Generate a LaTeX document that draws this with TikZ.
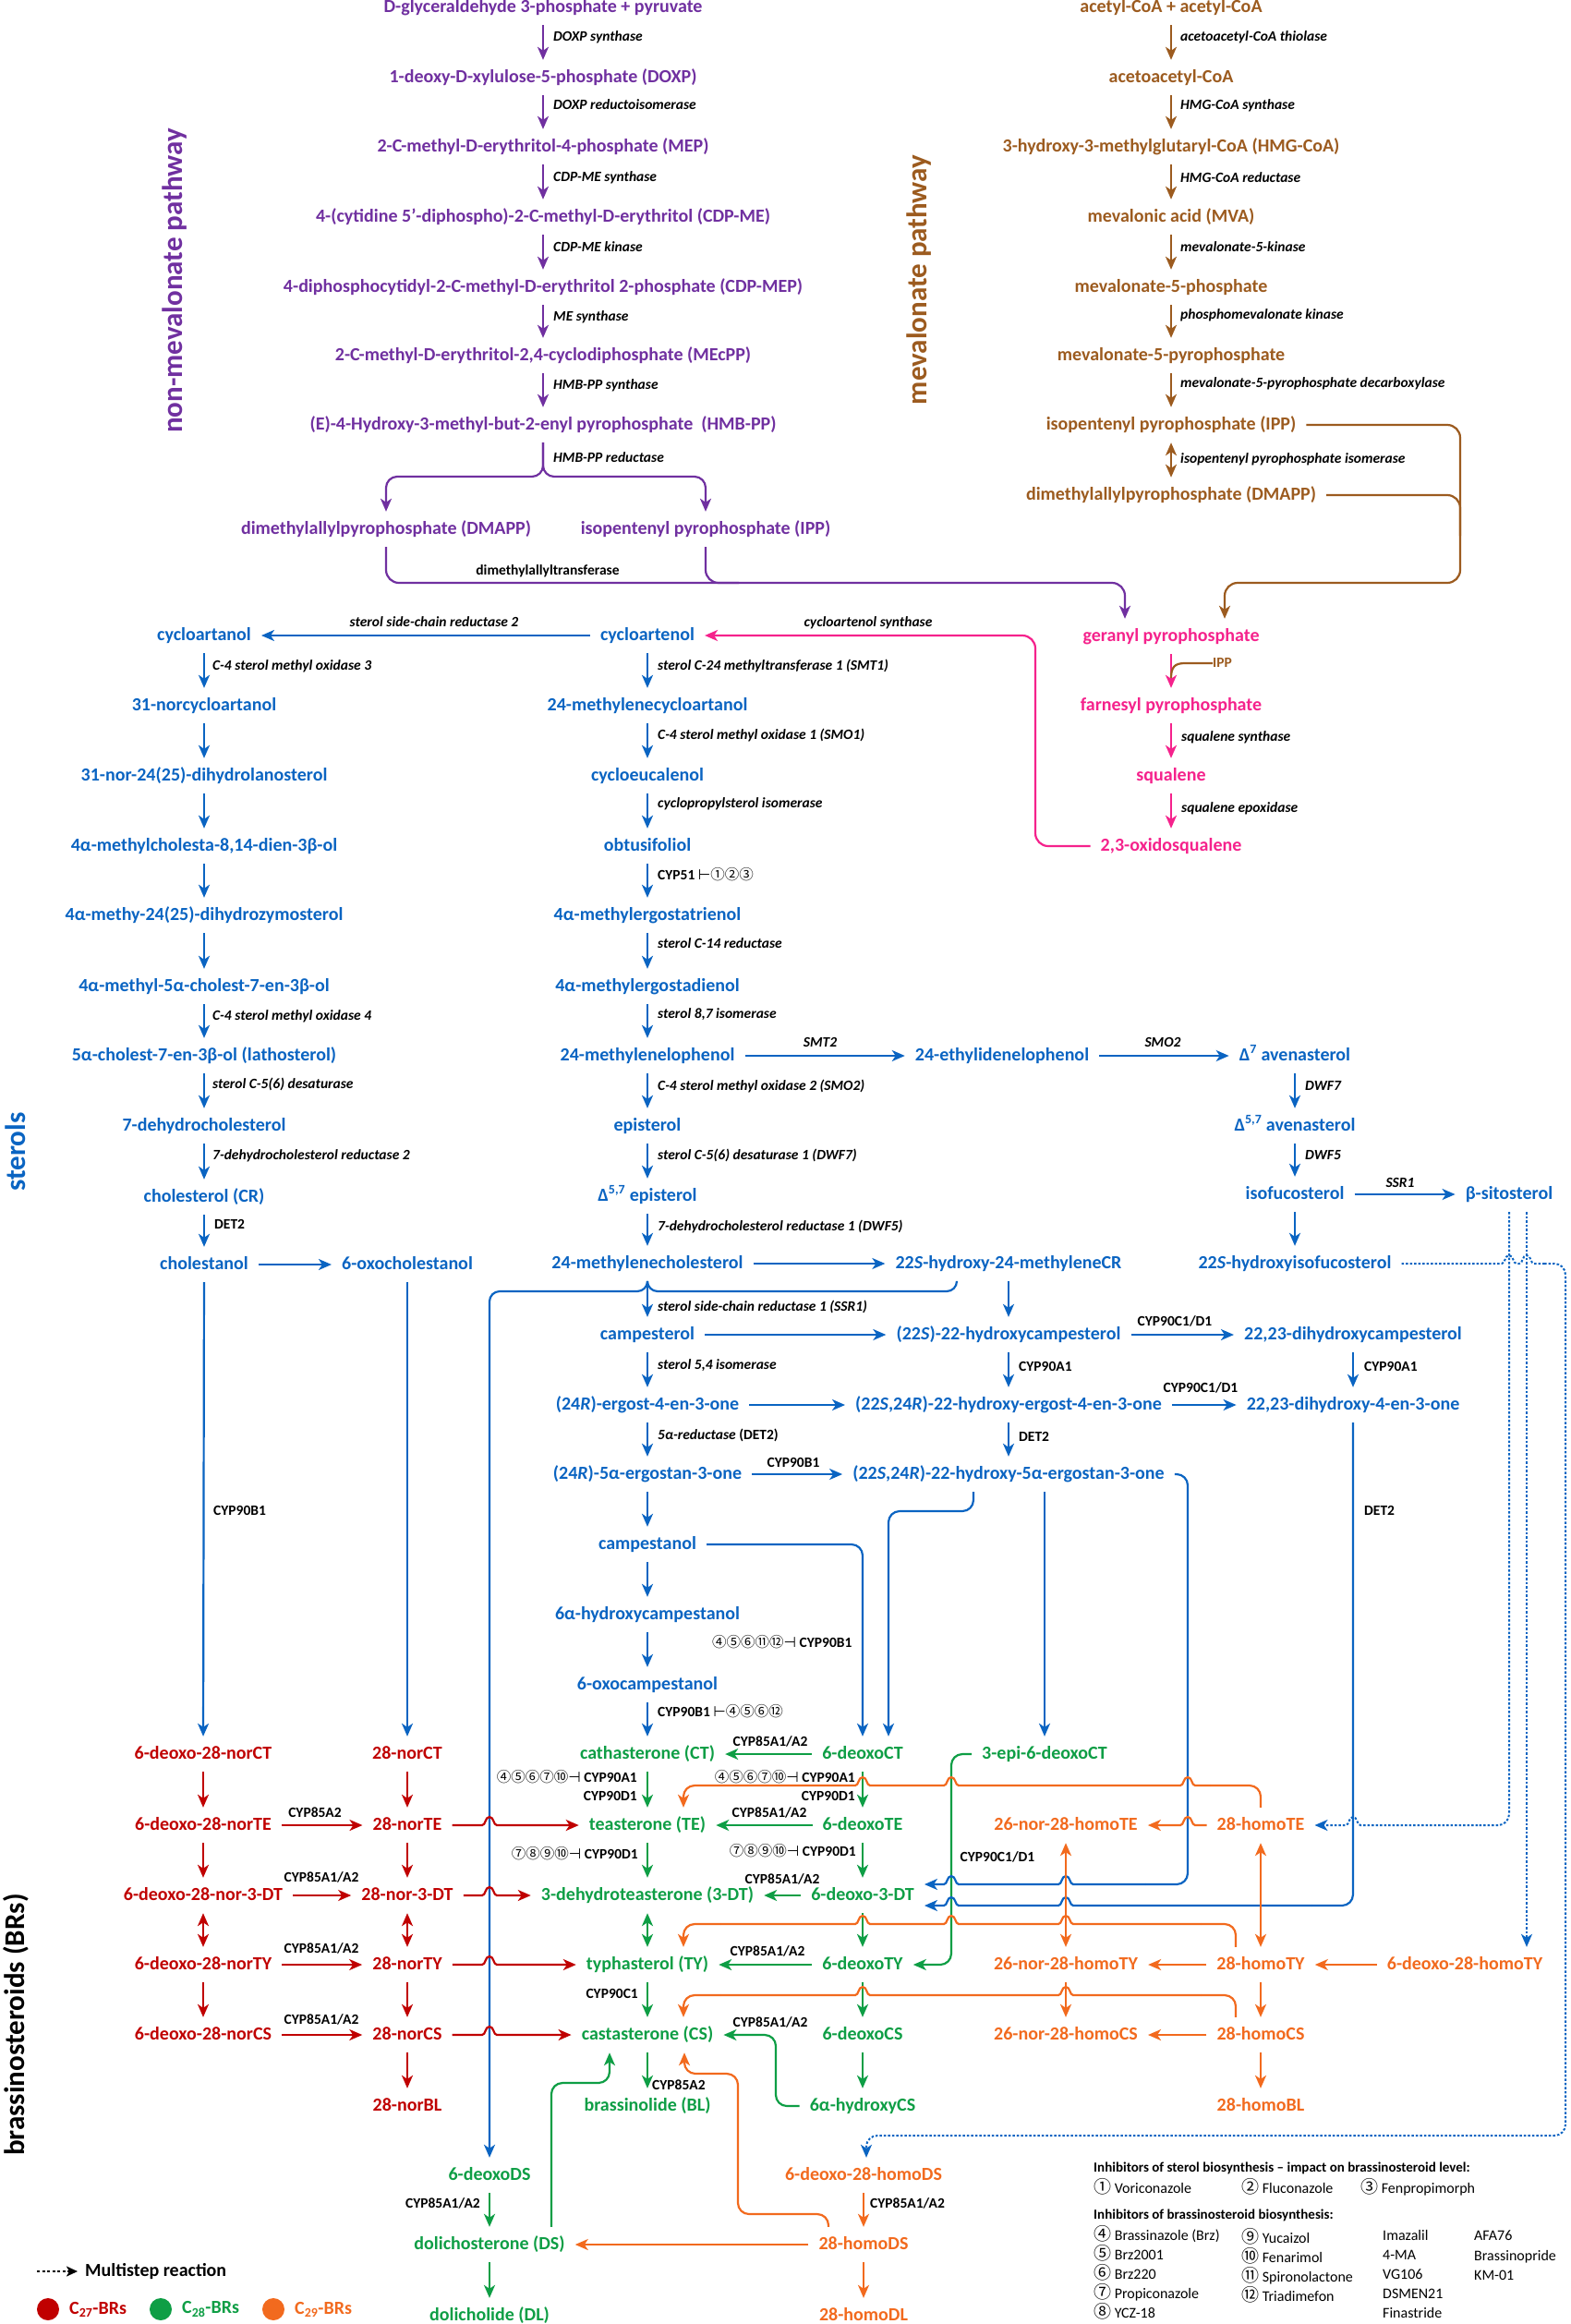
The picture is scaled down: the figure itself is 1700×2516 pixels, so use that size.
\documentclass[tikz,border=0pt]{standalone}
\usepackage{fontspec}
\setmainfont{Carlito}
\newfontfamily\symf{DejaVu Sans}
\newfontfamily\cjkf{Noto Sans CJK SC}
\usetikzlibrary{arrows.meta}
\definecolor{cpur}{HTML}{7030A0}
\definecolor{cbrn}{HTML}{9C5B1F}
\definecolor{cpnk}{HTML}{F5228C}
\definecolor{cblu}{HTML}{0A64C2}
\definecolor{cred}{HTML}{C00000}
\definecolor{cgrn}{HTML}{0E9E45}
\definecolor{corg}{HTML}{F26A1E}
\newcommand\hopl[2]{-- ({#1+8},#2) .. controls ({#1+4},#2) and ({#1+5},{#2-9}) .. (#1,{#2-9}) .. controls ({#1-5},{#2-9}) and ({#1-4},#2) .. ({#1-8},#2)}
\newcommand\hopr[2]{-- ({#1-8},#2) .. controls ({#1-4},#2) and ({#1-5},{#2-9}) .. (#1,{#2-9}) .. controls ({#1+5},{#2-9}) and ({#1+4},#2) .. ({#1+8},#2)}
\newcommand\cn[1]{{\cjkf\mdseries\upshape #1}}
\newcommand\cnl[1]{{\cjkf\mdseries\upshape\fontsize{19}{19}\selectfont #1}}
\newcommand\tk[1]{{\symf\mdseries\upshape #1}}
\tikzset{
 cmp/.style={font=\fontsize{20}{22}\selectfont\bfseries, inner xsep=11pt, inner ysep=10pt, text height=14pt, text depth=4pt},
 pc/.style={cmp,text=cpur}, bc/.style={cmp,text=cbrn}, kc/.style={cmp,text=cpnk},
 uc/.style={cmp,text=cblu}, rc/.style={cmp,text=cred}, gc/.style={cmp,text=cgrn}, oc/.style={cmp,text=corg},
 enz/.style={font=\fontsize{15.5}{17}\selectfont\bfseries\itshape, inner sep=0pt, text height=11pt, text depth=3pt, text=black},
 lab/.style={font=\fontsize{15.5}{17}\selectfont\bfseries, inner sep=0pt, text height=11pt, text depth=3pt, text=black},
 tip/.style={-{Stealth[length=14pt,width=12pt,inset=4pt]}},
 dtip/.style={{Stealth[length=14pt,width=12pt,inset=4pt]}-{Stealth[length=14pt,width=12pt,inset=4pt]}},
 pln/.style={cpur,line width=2.2pt}, bln/.style={cbrn,line width=2.2pt}, kln/.style={cpnk,line width=2.2pt},
 uln/.style={cblu,line width=2.2pt}, rln/.style={cred,line width=2.2pt}, gln/.style={cgrn,line width=2.2pt},
 oln/.style={corg,line width=2.2pt},
 dln/.style={cblu,line width=2pt,dash pattern=on 2.5pt off 2pt},
 ttl/.style={font=\fontsize{31}{33}\selectfont\bfseries, rotate=90, inner sep=0pt},
 lgh/.style={font=\fontsize{15}{17}\selectfont\bfseries, inner sep=0pt, anchor=west, text height=11pt, text depth=3pt},
 lgi/.style={font=\fontsize{16}{18}\selectfont, inner sep=0pt, anchor=west, text height=12pt, text depth=4pt},
}
\begin{document}
\begin{tikzpicture}[x=1pt,y=-1pt]
\useasboundingbox (0,0) rectangle (1700,2516);
\fill[white] (0,0) rectangle (1700,2516);

% ---------------- titles
\node[ttl,text=cpur] (tnm) at (189,304) {non-mevalonate pathway};
\node[ttl,text=cbrn] (tmv) at (995,303) {mevalonate pathway};
\node[ttl,text=cblu] (tst) at (17,1247) {sterols};
\node[ttl,text=black] (tbr) at (17,2192) {brassinosteroids (BRs)};

% ---------------- non-mevalonate (purple)
\node[pc] (p1) at (588,8) {D-glyceraldehyde 3-phosphate + pyruvate};
\node[pc] (p2) at (588,84) {1-deoxy-D-xylulose-5-phosphate (DOXP)};
\node[pc] (p3) at (588,159) {2-C-methyl-D-erythritol-4-phosphate (MEP)};
\node[pc] (p4) at (588,235) {4-(cytidine 5'-diphospho)-2-C-methyl-D-erythritol (CDP-ME)};
\node[pc] (p5) at (588,311) {4-diphosphocytidyl-2-C-methyl-D-erythritol 2-phosphate (CDP-MEP)};
\node[pc] (p6) at (588,385) {2-C-methyl-D-erythritol-2,4-cyclodiphosphate (MEcPP)};
\node[pc] (p7) at (588,460) {(E)-4-Hydroxy-3-methyl-but-2-enyl pyrophosphate\ \ (HMB-PP)};
\node[pc] (p8) at (418,573) {dimethylallylpyrophosphate (DMAPP)};
\node[pc] (p9) at (764,573) {isopentenyl pyrophosphate (IPP)};
\foreach \a/\b in {p1/p2,p2/p3,p3/p4,p4/p5,p5/p6,p6/p7} \draw[pln,tip] (\a) -- (\b);
\node[enz,anchor=west] (lp1) at (599,40) {DOXP synthase};
\node[enz,anchor=west] (lp2) at (599,114) {DOXP reductoisomerase};
\node[enz,anchor=west] (lp3) at (599,192) {CDP-ME synthase};
\node[enz,anchor=west] (lp4) at (599,268) {CDP-ME kinase};
\node[enz,anchor=west] (lp5) at (599,343) {ME synthase};
\node[enz,anchor=west] (lp6) at (599,417) {HMB-PP synthase};
\node[enz,anchor=west] (lp7) at (599,496) {HMB-PP reductase};
\draw[pln,tip,rounded corners=12pt] (p7.south) -- (588,516) -- (418,516) -- (p8.north);
\draw[pln,tip,rounded corners=12pt] (p7.south) -- (588,516) -- (764,516) -- (p9.north);
\node[lab] (lp8) at (593,618) {dimethylallyltransferase};

% ---------------- mevalonate (brown)
\node[bc] (b1) at (1268,8) {acetyl-CoA + acetyl-CoA};
\node[bc] (b2) at (1268,84) {acetoacetyl-CoA};
\node[bc] (b3) at (1268,159) {3-hydroxy-3-methylglutaryl-CoA (HMG-CoA)};
\node[bc] (b4) at (1268,235) {mevalonic acid (MVA)};
\node[bc] (b5) at (1268,311) {mevalonate-5-phosphate};
\node[bc] (b6) at (1268,385) {mevalonate-5-pyrophosphate};
\node[bc] (b7) at (1268,460) {isopentenyl pyrophosphate (IPP)};
\node[bc] (b8) at (1268,536) {dimethylallylpyrophosphate (DMAPP)};
\foreach \a/\b in {b1/b2,b2/b3,b3/b4,b4/b5,b5/b6,b6/b7} \draw[bln,tip] (\a) -- (\b);
\draw[bln,dtip] (b7) -- (b8);
\node[enz,anchor=west] (lb1) at (1278,40) {acetoacetyl-CoA thiolase};
\node[enz,anchor=west] (lb2) at (1278,114) {HMG-CoA synthase};
\node[enz,anchor=west] (lb3) at (1278,193) {HMG-CoA reductase};
\node[enz,anchor=west] (lb4) at (1278,268) {mevalonate-5-kinase};
\node[enz,anchor=west] (lb5) at (1278,341) {phosphomevalonate kinase};
\node[enz,anchor=west] (lb6) at (1278,415) {mevalonate-5-pyrophosphate decarboxylase};
\node[enz,anchor=west] (lb7) at (1278,497) {isopentenyl pyrophosphate isomerase};

% ---------------- pink
\node[kc] (g1) at (1268,689) {geranyl pyrophosphate};
\node[kc] (g2) at (1268,764) {farnesyl pyrophosphate};
\node[kc] (g3) at (1268,840) {squalene};
\node[kc] (g4) at (1268,916) {2,3-oxidosqualene};
\draw[kln,tip] (g1) -- (g2);
\draw[kln,tip] (g2) -- (g3);
\draw[kln,tip] (g3) -- (g4);
\node[enz,anchor=west] (lk1) at (1279,798) {squalene synthase};
\node[enz,anchor=west] (lk2) at (1279,875) {squalene epoxidase};
\node[lab,text=cbrn,anchor=west] (ipp2) at (1313,718) {IPP};
\draw[bln] (ipp2.west) -- (1283,718) .. controls (1272,718) and (1268,722) .. (1268,734);

% connections into geranyl pyrophosphate
\draw[pln,tip,rounded corners=14pt] (p8.south) -- (418,631) -- (1218,631) -- (g1.north -| 1218,0);
\draw[pln,rounded corners=14pt] (p9.south) -- (764,631) -- (800,631);
\draw[bln,tip,rounded corners=14pt] (b7.east) -- (1581,460) -- (1581,631) -- (1326,631) -- (g1.north -| 1326,0);
\draw[bln,rounded corners=14pt] (b8.east) -- (1581,536) -- (1581,580);

% ---------------- sterols main column
\node[uc] (s1) at (701,688) {cycloartenol};
\node[uc] (s2) at (701,764) {24-methylenecycloartanol};
\node[uc] (s3) at (701,840) {cycloeucalenol};
\node[uc] (s4) at (701,916) {obtusifoliol};
\node[uc] (s5) at (701,991) {4α-methylergostatrienol};
\node[uc] (s6) at (701,1068) {4α-methylergostadienol};
\node[uc] (s7) at (701,1143) {24-methylenelophenol};
\node[uc] (s8) at (701,1219) {episterol};
\node[uc] (s9) at (701,1295) {Δ\textsuperscript{5,7} episterol};
\node[uc] (s10) at (701,1368) {24-methylenecholesterol};
\node[uc] (s11) at (701,1445) {campesterol};
\node[uc] (s12) at (701,1521) {(24\textit{R})-ergost-4-en-3-one};
\node[uc] (s13) at (701,1596) {(24\textit{R})-5α-ergostan-3-one};
\node[uc] (s14) at (701,1672) {campestanol};
\node[uc] (s15) at (701,1748) {6α-hydroxycampestanol};
\node[uc] (s16) at (701,1824) {6-oxocampestanol};
\foreach \a/\b in {s1/s2,s2/s3,s3/s4,s4/s5,s5/s6,s6/s7,s7/s8,s8/s9,s9/s10,s10/s11,s11/s12,s12/s13,s13/s14,s14/s15,s15/s16} \draw[uln,tip] (\a) -- (\b);
\node[enz,anchor=west] (ls1) at (712,721) {sterol C-24 methyltransferase 1 (SMT1)};
\node[enz,anchor=west] (ls2) at (712,796) {C-4 sterol methyl oxidase 1 (SMO1)};
\node[enz,anchor=west] (ls3) at (712,870) {cyclopropylsterol isomerase};
\node[lab,anchor=west] (ls4) at (712,948) {CYP51 \tk{⊢}\cn{①②③}};
\node[enz,anchor=west] (ls5) at (712,1022) {sterol C-14 reductase};
\node[enz,anchor=west] (ls6) at (712,1098) {sterol 8,7 isomerase};
\node[enz,anchor=west] (ls7) at (712,1176) {C-4 sterol methyl oxidase 2 (SMO2)};
\node[enz,anchor=west] (ls8) at (712,1251) {sterol C-5(6) desaturase 1 (DWF7)};
\node[enz,anchor=west] (ls9) at (712,1328) {7-dehydrocholesterol reductase 1 (DWF5)};
\node[enz,anchor=west] (ls10) at (712,1415) {sterol side-chain reductase 1 (SSR1)};
\node[enz,anchor=west] (ls11) at (712,1478) {sterol 5,4 isomerase};
\node[enz,anchor=west] (ls12) at (712,1554) {5α-reductase \textup{(DET2)}};
\node[lab,anchor=west] (ls13) at (771,1779) {\cn{④⑤⑥⑪⑫}\tk{⊣} CYP90B1};
\node[lab,anchor=west] (ls14) at (712,1854) {CYP90B1 \tk{⊢}\cn{④⑤⑥⑫}};

% pink to cycloartenol
\draw[kln,tip,rounded corners=14pt] (g4.west) -- (1121,916) -- (1121,688) -- (s1.east);
\node[enz] (lk3) at (940,674) {cycloartenol synthase};

% ---------------- left sterol column
\node[uc] (c1) at (221,688) {cycloartanol};
\node[uc] (c2) at (221,764) {31-norcycloartanol};
\node[uc] (c3) at (221,840) {31-nor-24(25)-dihydrolanosterol};
\node[uc] (c4) at (221,916) {4α-methylcholesta-8,14-dien-3β-ol};
\node[uc] (c5) at (221,991) {4α-methy-24(25)-dihydrozymosterol};
\node[uc] (c6) at (221,1068) {4α-methyl-5α-cholest-7-en-3β-ol};
\node[uc] (c7) at (221,1143) {5α-cholest-7-en-3β-ol (lathosterol)};
\node[uc] (c8) at (221,1219) {7-dehydrocholesterol};
\node[uc] (c9) at (221,1296) {cholesterol (CR)};
\node[uc] (c10) at (221,1369) {cholestanol};
\node[uc] (c11) at (441,1369) {6-oxocholestanol};
\foreach \a/\b in {c1/c2,c2/c3,c3/c4,c4/c5,c5/c6,c6/c7,c7/c8,c8/c9,c9/c10,c10/c11} \draw[uln,tip] (\a) -- (\b);
\draw[uln,tip] (s1) -- (c1);
\node[enz] (lc0) at (470,674) {sterol side-chain reductase 2};
\node[enz,anchor=west] (lc1) at (230,721) {C-4 sterol methyl oxidase 3};
\node[enz,anchor=west] (lc2) at (230,1100) {C-4 sterol methyl oxidase 4};
\node[enz,anchor=west] (lc3) at (230,1174) {sterol C-5(6) desaturase};
\node[enz,anchor=west] (lc4) at (230,1251) {7-dehydrocholesterol reductase 2};
\node[lab,anchor=west] (lc5) at (232,1326) {DET2};
\node[lab,anchor=west] (lc6) at (231,1636) {CYP90B1};

% ---------------- right sterol branch
\node[uc] (m1) at (1085,1143) {24-ethylidenelophenol};
\node[uc] (m2) at (1402,1143) {Δ\textsuperscript{7} avenasterol};
\node[uc] (m3) at (1402,1219) {Δ\textsuperscript{5,7} avenasterol};
\node[uc] (m4) at (1402,1293) {isofucosterol};
\node[uc] (m5) at (1634,1293) {β-sitosterol};
\node[uc] (m6) at (1402,1368) {22\textit{S}-hydroxyisofucosterol};
\draw[uln,tip] (s7) -- (m1);
\draw[uln,tip] (m1) -- (m2);
\draw[uln,tip] (m2) -- (m3);
\draw[uln,tip] (m3) -- (m4);
\draw[uln,tip] (m4) -- (m5);
\draw[uln,tip] (m4) -- (m6);
\node[enz] (lm1) at (888,1129) {SMT2};
\node[enz] (lm2) at (1259,1129) {SMO2};
\node[enz,anchor=west] (lm3) at (1413,1176) {DWF7};
\node[enz,anchor=west] (lm4) at (1413,1251) {DWF5};
\node[enz] (lm5) at (1516,1281) {SSR1};

% ---------------- 22-hydroxylated column
\node[uc] (n1) at (1092,1368) {22\textit{S}-hydroxy-24-methyleneCR};
\node[uc] (n2) at (1092,1445) {(22\textit{S})-22-hydroxycampesterol};
\node[uc] (n3) at (1092,1521) {(22\textit{S},24\textit{R})-22-hydroxy-ergost-4-en-3-one};
\node[uc] (n4) at (1092,1596) {(22\textit{S},24\textit{R})-22-hydroxy-5α-ergostan-3-one};
\node[uc] (r1) at (1465,1445) {22,23-dihydroxycampesterol};
\node[uc] (r2) at (1465,1521) {22,23-dihydroxy-4-en-3-one};
\draw[uln,tip] (s10) -- (n1);
\draw[uln,tip] (s11) -- (n2);
\draw[uln,tip] (s12) -- (n3);
\draw[uln,tip] (s13) -- (n4);
\draw[uln,tip] (n1) -- (n2);
\draw[uln,tip] (n2) -- (n3);
\draw[uln,tip] (n3) -- (n4);
\draw[uln,tip] (n2) -- (r1);
\draw[uln,tip] (n3) -- (r2);
\draw[uln,tip] (r1) -- (r2);
\node[lab] (ln1) at (859,1584) {CYP90B1};
\node[lab,anchor=west] (ln2) at (1103,1480) {CYP90A1};
\node[lab,anchor=west] (ln3) at (1103,1556) {DET2};
\node[lab] (ln4) at (1272,1431) {CYP90C1/D1};
\node[lab] (ln5) at (1300,1503) {CYP90C1/D1};
\node[lab,anchor=west] (ln6) at (1477,1480) {CYP90A1};
\node[lab,anchor=west] (ln7) at (1477,1636) {DET2};

% ---------------- BRs green
\node[gc] (gr1) at (701,1899) {cathasterone (CT)};
\node[gc] (gr2) at (934,1899) {6-deoxoCT};
\node[gc] (gr3) at (1131,1899) {3-epi-6-deoxoCT};
\node[gc] (gr4) at (701,1976) {teasterone (TE)};
\node[gc] (gr5) at (934,1976) {6-deoxoTE};
\node[gc] (gr6) at (701,2052) {3-dehydroteasterone (3-DT)};
\node[gc] (gr7) at (934,2052) {6-deoxo-3-DT};
\node[gc] (gr8) at (701,2127) {typhasterol (TY)};
\node[gc] (gr9) at (934,2127) {6-deoxoTY};
\node[gc] (gr10) at (701,2203) {castasterone (CS)};
\node[gc] (gr11) at (934,2203) {6-deoxoCS};
\node[gc] (gr12) at (701,2280) {brassinolide (BL)};
\node[gc] (gr13) at (934,2280) {6α-hydroxyCS};
\node[gc] (gr14) at (530,2355) {6-deoxoDS};
\node[gc] (gr15) at (530,2430) {dolichosterone (DS)};
\node[gc] (gr16) at (530,2507) {dolicholide (DL)};
\draw[uln,tip] (s16) -- (gr1);
\foreach \a/\b in {gr1/gr4,gr4/gr6,gr8/gr10,gr10/gr12,gr2/gr5,gr5/gr7,gr7/gr9,gr9/gr11,gr11/gr13,gr2/gr1,gr5/gr4,gr7/gr6,gr9/gr8,gr14/gr15,gr15/gr16} \draw[gln,tip] (\a) -- (\b);
\draw[gln,dtip] (gr6) -- (gr8);
\draw[gln,tip,rounded corners=12pt] (gr3.west) -- (1030,1899) -- (1030,2127) -- (gr9.east);
\draw[gln,tip,rounded corners=12pt] (gr13.west) -- (840,2280) -- (840,2203) -- (gr10.east);
\draw[gln,tip,rounded corners=12pt] (gr15.north -| 597,0) -- (597,2255) -- (660,2255) -- (gr10.south -| 660,0);

\node[lab] (lg1) at (834,1886) {CYP85A1/A2};
\node[lab,anchor=east] (lg2) at (690,1925) {\cn{④⑤⑥⑦⑩}\tk{⊣} CYP90A1};
\node[lab,anchor=east] (lg3) at (690,1945) {CYP90D1};
\node[lab,anchor=east] (lg4) at (926,1925) {\cn{④⑤⑥⑦⑩}\tk{⊣} CYP90A1};
\node[lab,anchor=east] (lg5) at (926,1945) {CYP90D1};
\node[lab] (lg6) at (833,1963) {CYP85A1/A2};
\node[lab,anchor=east] (lg7) at (691,2008) {\cn{⑦⑧⑨⑩}\tk{⊣} CYP90D1};
\node[lab,anchor=east] (lg8) at (927,2005) {\cn{⑦⑧⑨⑩}\tk{⊣} CYP90D1};
\node[lab] (lg9) at (1080,2011) {CYP90C1/D1};
\node[lab] (lg10) at (847,2035) {CYP85A1/A2};
\node[lab] (lg11) at (831,2113) {CYP85A1/A2};
\node[lab,anchor=east] (lg12) at (691,2159) {CYP90C1};
\node[lab] (lg13) at (834,2190) {CYP85A1/A2};
\node[lab,anchor=west] (lg14) at (706,2258) {CYP85A2};
\node[lab,anchor=east] (lg15) at (520,2386) {CYP85A1/A2};

% ---------------- BRs red
\node[rc] (rd1) at (220,1899) {6-deoxo-28-norCT};
\node[rc] (rd2) at (441,1899) {28-norCT};
\node[rc] (rd3) at (220,1976) {6-deoxo-28-norTE};
\node[rc] (rd4) at (441,1976) {28-norTE};
\node[rc] (rd5) at (220,2052) {6-deoxo-28-nor-3-DT};
\node[rc] (rd6) at (441,2052) {28-nor-3-DT};
\node[rc] (rd7) at (220,2127) {6-deoxo-28-norTY};
\node[rc] (rd8) at (441,2127) {28-norTY};
\node[rc] (rd9) at (220,2203) {6-deoxo-28-norCS};
\node[rc] (rd10) at (441,2203) {28-norCS};
\node[rc] (rd11) at (441,2280) {28-norBL};
\foreach \a/\b in {rd1/rd3,rd3/rd5,rd7/rd9,rd2/rd4,rd4/rd6,rd8/rd10,rd10/rd11,rd3/rd4,rd5/rd6,rd7/rd8,rd9/rd10} \draw[rln,tip] (\a) -- (\b);
\draw[rln,dtip] (rd5) -- (rd7);
\draw[rln,dtip] (rd6) -- (rd8);
\node[lab] (lr1) at (341,1963) {CYP85A2};
\node[lab] (lr2) at (348,2033) {CYP85A1/A2};
\node[lab] (lr3) at (348,2110) {CYP85A1/A2};
\node[lab] (lr4) at (348,2187) {CYP85A1/A2};
\draw[uln,tip] (c10) -- (rd1);
\draw[uln,tip] (c11) -- (rd2);

% blue line to 6-deoxoDS
\draw[uln,tip,rounded corners=11pt] (s10.south) -- (701,1398) -- (530,1398) -- (gr14.north);
\draw[uln,rounded corners=11pt] (n1.south -| 1036,0) -- (1036,1398) -- (701,1398) -- (s10.south);
% red arrows hopping over blue line
\draw[rln,tip] (rd4.east) \hopr{530}{1976} -- (gr4.west);
\draw[rln,tip] (rd6.east) \hopr{530}{2052} -- (gr6.west);
\draw[rln,tip] (rd8.east) \hopr{530}{2127} -- (gr8.west);
\draw[rln,tip] (rd10.east) \hopr{530}{2203} -- (gr10.west);

% blue lines into 6-deoxoCT, 3-epi-6-deoxoCT, 6-deoxo-3-DT
\draw[uln,tip,rounded corners=12pt] (s14.east) -- (934,1672) -- (gr2.north -| 934,0);
\draw[uln,tip,rounded corners=12pt] (n4.south -| 1054,0) -- (1054,1636) -- (962,1636) -- (gr2.north -| 962,0);
\draw[uln,tip] (n4.south -| gr3.north) -- (gr3.north);
\coordinate (q1) at (1240,2040);
\coordinate (q2) at (1420,2063);
\draw[uln,rounded corners=12pt] (n4.east) -- (1286,1596) -- (1286,2040) -- (q1);
\draw[uln,tip] (q1) \hopl{1154}{2040} \hopl{1030}{2040} -- (gr7.east |- 0,2040);
\draw[uln,rounded corners=12pt] (r2.south) -- (1465,2063) -- (q2);
\draw[uln,tip] (q2) \hopl{1154}{2063} \hopl{1030}{2063} -- (gr7.east |- 0,2063);

% ---------------- BRs orange
\node[oc] (o1) at (1154,1976) {26-nor-28-homoTE};
\node[oc] (o2) at (1365,1976) {28-homoTE};
\node[oc] (o3) at (1154,2127) {26-nor-28-homoTY};
\node[oc] (o4) at (1365,2127) {28-homoTY};
\node[oc] (o5) at (1586,2127) {6-deoxo-28-homoTY};
\node[oc] (o6) at (1154,2203) {26-nor-28-homoCS};
\node[oc] (o7) at (1365,2203) {28-homoCS};
\node[oc] (o8) at (1365,2280) {28-homoBL};
\node[oc] (o9) at (935,2355) {6-deoxo-28-homoDS};
\node[oc] (o10) at (935,2430) {28-homoDS};
\node[oc] (o11) at (935,2507) {28-homoDL};
\draw[oln,dtip] (o1) -- (o3);
\draw[oln,dtip] (o2) -- (o4);
\foreach \a/\b in {o4/o3,o5/o4,o3/o6,o4/o7,o7/o6,o7/o8,o9/o10,o10/o11,o10/gr15} \draw[oln,tip] (\a) -- (\b);
\draw[oln,tip] (o2.west) \hopl{1286}{1976} -- (o1.east);
\node[lab,anchor=west] (lo1) at (942,2386) {CYP85A1/A2};
% orange long lines with hops
\coordinate (u1) at (1310,1933); \coordinate (u2) at (780,1933);
\draw[oln,rounded corners=12pt] (o2.north) -- (1365,1933) -- (u1);
\draw[oln] (u1) \hopl{1286}{1933} \hopl{1030}{1933} \hopl{934}{1933} -- (u2);
\draw[oln,tip,rounded corners=12pt] (u2) -- (740,1933) -- (gr4.north -| 740,0);
\coordinate (u3) at (1300,2083); \coordinate (u4) at (780,2083);
\draw[oln,rounded corners=12pt] (o4.north -| 1338,0) -- (1338,2083) -- (u3);
\draw[oln] (u3) \hopl{1154}{2083} \hopl{1030}{2083} \hopl{934}{2083} -- (u4);
\draw[oln,tip,rounded corners=12pt] (u4) -- (740,2083) -- (gr8.north -| 740,0);
\coordinate (u5) at (1300,2160); \coordinate (u6) at (780,2160);
\draw[oln,rounded corners=12pt] (o7.north -| 1338,0) -- (1338,2160) -- (u5);
\draw[oln] (u5) \hopl{1154}{2160} \hopl{934}{2160} -- (u6);
\draw[oln,tip,rounded corners=12pt] (u6) -- (740,2160) -- (gr10.north -| 740,0);
\draw[oln,tip,rounded corners=12pt] (o10.north -| 897,0) -- (897,2397) -- (799,2397) -- (799,2245) -- (741,2245) -- (gr10.south -| 741,0);

% dotted multistep lines
\coordinate (v1) at (1672,1368);
\draw[dln] (m6.east) \hopr{1634}{1368} \hopr{1653}{1368} -- (v1);
\draw[dln,tip,rounded corners=12pt] (v1) -- (1695,1368) -- (1695,2312) -- (938,2312) -- (o9.north -| 938,0);
\coordinate (v2) at (1600,1976);
\draw[dln,rounded corners=12pt] (m5.south) -- (1634,1976) -- (v2);
\draw[dln,tip] (v2) \hopl{1465}{1976} -- (o2.east);
\draw[dln,tip] (m5.south -| 1653,0) -- (o5.north -| 1653,0);

% ---------------- legends
\coordinate (ms1) at (40,2459);
\coordinate (ms2) at (84,2459);
\draw[line width=1.8pt,dash pattern=on 3pt off 2.5pt,-{Stealth[length=12pt,width=11pt,inset=3pt]}] (ms1) -- (ms2);
\node[font=\fontsize{20}{22}\selectfont\bfseries,inner sep=0pt,anchor=west] (mst) at (92,2459) {Multistep reaction};
\node[circle,fill=cred,minimum size=24pt,inner sep=0pt] (k1) at (52,2500) {};
\node[circle,fill=cgrn,minimum size=24pt,inner sep=0pt] (k2) at (174,2500) {};
\node[circle,fill=corg,minimum size=24pt,inner sep=0pt] (k3) at (296,2500) {};
\node[font=\fontsize{20}{22}\selectfont\bfseries,text=cred,inner sep=0pt,anchor=west] (kt1) at (75,2500) {C\textsubscript{27}-BRs};
\node[font=\fontsize{20}{22}\selectfont\bfseries,text=cgrn,inner sep=0pt,anchor=west] (kt2) at (197,2500) {C\textsubscript{28}-BRs};
\node[font=\fontsize{20}{22}\selectfont\bfseries,text=corg,inner sep=0pt,anchor=west] (kt3) at (319,2500) {C\textsubscript{29}-BRs};

\node[lgh] (h1) at (1184,2347) {Inhibitors of sterol biosynthesis – impact on brassinosteroid level:};
\node[lgi] (i1) at (1184,2370) {\cnl{①} Voriconazole};
\node[lgi] (i2) at (1344,2370) {\cnl{②} Fluconazole};
\node[lgi] (i3) at (1473,2370) {\cnl{③} Fenpropimorph};
\node[lgh] (h2) at (1184,2398) {Inhibitors of brassinosteroid biosynthesis:};
\node[lgi] (i4) at (1184,2421) {\cnl{④} Brassinazole (Brz)};
\node[lgi] (i5) at (1184,2442) {\cnl{⑤} Brz2001};
\node[lgi] (i6) at (1184,2463) {\cnl{⑥} Brz220};
\node[lgi] (i7) at (1184,2484) {\cnl{⑦} Propiconazole};
\node[lgi] (i8) at (1184,2505) {\cnl{⑧} YCZ-18};
\node[lgi] (i9) at (1344,2424) {\cnl{⑨} Yucaizol};
\node[lgi] (i10) at (1344,2445) {\cnl{⑩} Fenarimol};
\node[lgi] (i11) at (1344,2466) {\cnl{⑪} Spironolactone};
\node[lgi] (i12) at (1344,2487) {\cnl{⑫} Triadimefon};
\node[lgi] (j1) at (1497,2421) {Imazalil};
\node[lgi] (j2) at (1497,2442) {4-MA};
\node[lgi] (j3) at (1497,2463) {VG106};
\node[lgi] (j4) at (1497,2484) {DSMEN21};
\node[lgi] (j5) at (1497,2505) {Finastride};
\node[lgi] (j6) at (1596,2421) {AFA76};
\node[lgi] (j7) at (1596,2443) {Brassinopride};
\node[lgi] (j8) at (1596,2464) {KM-01};
\end{tikzpicture}
\end{document}
